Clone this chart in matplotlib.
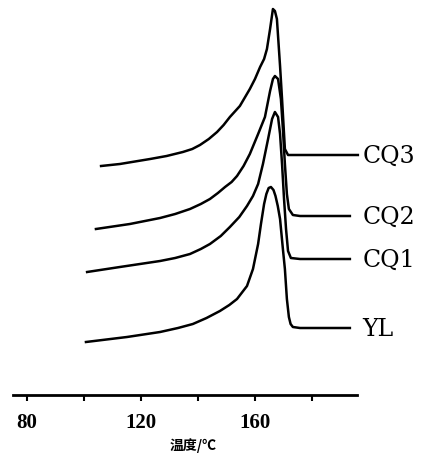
import matplotlib
matplotlib.use("Agg")
import matplotlib.pyplot as plt

# DSC melting curves, temperature in degC, heat flow in arbitrary (offset) units
yl_t  = [100.7, 115.1, 126.7, 133.0, 138.2, 143.0, 147.7, 151.0, 153.7, 157.2, 159.3,
         161.1, 162.1, 163.2, 164.0, 164.8, 165.6, 166.5, 167.2, 168.0, 168.8, 169.8,
         170.5, 171.2, 171.9, 172.5, 173.3, 175.8, 193.3]
yl_hf = [5.3, 5.8, 6.3, 6.7, 7.1, 7.7, 8.4, 9.0, 9.6, 10.9, 12.6,
         15.1, 17.1, 19.1, 20.1, 20.7, 20.8, 20.5, 19.9, 18.9, 17.6, 14.6,
         12.6, 9.6, 7.8, 7.1, 6.8, 6.7, 6.7]

cq1_t  = [101.1, 112.6, 126.7, 132.0, 137.2, 141.0, 144.2, 148.0, 151.2, 154.5, 157.2,
          159.3, 161.1, 162.8, 164.6, 166.0, 167.0, 168.1, 168.8, 169.5, 170.2, 170.9,
          171.6, 172.6, 175.8, 193.3]
cq1_hf = [12.3, 12.8, 13.4, 13.7, 14.1, 14.6, 15.1, 15.9, 16.8, 17.8, 18.9,
          19.9, 21.1, 23.1, 25.6, 27.6, 28.3, 27.8, 26.1, 23.1, 19.6, 16.6,
          14.4, 13.7, 13.6, 13.6]

cq2_t  = [104.2, 116.1, 126.7, 132.0, 137.2, 141.0, 144.2, 147.0, 149.5, 151.8, 153.7,
          156.0, 158.2, 161.1, 163.5, 165.3, 166.3, 167.0, 168.1, 169.1, 169.8, 170.5,
          171.2, 171.9, 173.3, 175.8, 193.3]
cq2_hf = [16.6, 17.1, 17.7, 18.1, 18.6, 19.1, 19.6, 20.2, 20.8, 21.3, 21.9,
          22.9, 24.1, 26.1, 27.8, 30.4, 31.6, 31.9, 31.6, 29.6, 26.6, 23.1,
          20.1, 18.6, 18.0, 17.9, 17.9]

cq3_t  = [106.0, 112.6, 123.2, 129.0, 134.7, 138.0, 140.7, 143.8, 146.7, 149.0, 151.2,
          154.7, 158.2, 160.0, 161.8, 163.2, 164.2, 165.3, 166.3, 167.0, 167.7, 168.8,
          169.5, 170.2, 170.5, 171.6, 175.8, 196.1]
cq3_hf = [22.9, 23.1, 23.6, 23.9, 24.3, 24.6, 25.0, 25.6, 26.3, 27.0, 27.8,
          28.9, 30.6, 31.6, 32.8, 33.6, 34.6, 36.6, 38.6, 38.4, 37.6, 32.9,
          29.6, 26.1, 24.6, 24.0, 24.0, 24.0]

names = ["YL", "CQ1", "CQ2", "CQ3"]
ticks = [80, 100, 120, 140, 160, 180]
tick_labels = ["80", "", "120", "", "160", ""]

fig = plt.figure(figsize=(4.36, 4.56), dpi=100)
ax = fig.add_axes([13/436, 60/456, 344/436, 396/456])

curves = [(yl_t, yl_hf), (cq1_t, cq1_hf), (cq2_t, cq2_hf), (cq3_t, cq3_hf)]
for (t, hf), name in zip(curves, names):
  ax.plot(t, hf, color="black", lw=1.8, clip_on=False, solid_joinstyle="round")
  ax.text(197.8, hf[-1], name, fontsize=17, family="DejaVu Serif",
          va="center", ha="left", clip_on=False)

ax.set_xlim(75.1, 195.8)
ax.set_ylim(0, 39.6)
for s in ["left", "top", "right"]:
  ax.spines[s].set_visible(False)
ax.spines["bottom"].set_linewidth(2)
ax.set_yticks([])
ax.set_xticks(ticks)
ax.set_xticklabels(tick_labels, family="Liberation Serif", fontweight="bold", fontsize=15)
ax.tick_params(axis="x", direction="out", length=4, width=1.5, pad=8)

fig.text(193/436, 1 - 446/456, "温度/℃", family=["Noto Sans CJK SC", "DejaVu Sans"],
         fontsize=10, fontweight="bold", ha="center", va="center")

fig.savefig("out.png", dpi=100)
